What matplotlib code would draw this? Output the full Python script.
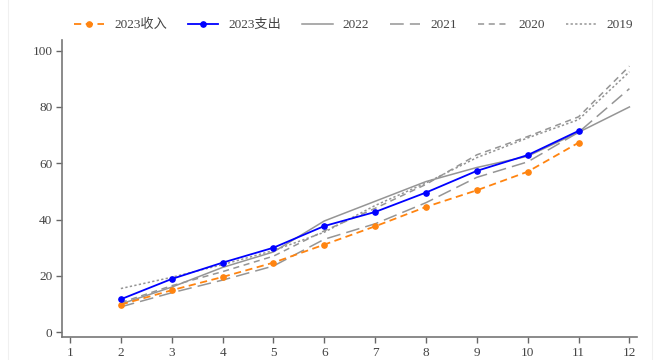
import matplotlib.pyplot as plt
from matplotlib.lines import Line2D

plt.rcParams['font.family'] = ['Liberation Serif', 'Noto Sans CJK SC']

months = [2, 3, 4, 5, 6, 7, 8, 9, 10, 11, 12]
months_2023 = [2, 3, 4, 5, 6, 7, 8, 9, 10, 11]

income_2023 = [9.8, 14.9, 19.6, 24.7, 31.1, 37.6, 44.5, 50.4, 57.0, 67.3]
spend_2023 = [11.7, 18.9, 24.7, 30.0, 37.7, 42.7, 49.6, 57.3, 62.9, 71.5]
y2022 = [10.0, 16.0, 23.0, 28.5, 39.5, 46.5, 53.5, 58.5, 62.5, 71.0, 80.0]
y2021 = [9.0, 14.0, 18.5, 23.5, 33.0, 38.5, 46.0, 55.0, 60.5, 71.0, 86.5]
y2020 = [10.5, 16.5, 21.5, 27.0, 36.0, 44.0, 52.5, 63.0, 69.5, 76.5, 94.5]
y2019 = [15.5, 19.5, 24.0, 29.0, 35.5, 45.0, 53.0, 62.0, 69.0, 75.5, 92.5]

gray = '#959595'

fig = plt.figure(figsize=(6.64, 3.6), dpi=100)
ax = fig.add_axes([0.0934, 0.064, 0.866, 0.825])

# faint page edges
for xf in (0.012, 0.982):
    fig.add_artist(Line2D([xf, xf], [0, 1], color='#f0f0f0', lw=0.8))

ax.plot(months, y2022, color=gray, lw=1.1, label='2022')
ax.plot(months, y2021, color=gray, lw=1.1, dashes=(9, 4), label='2021')
ax.plot(months, y2020, color=gray, lw=1.1, dashes=(4, 3), label='2020')
ax.plot(months, y2019, color=gray, lw=1.1, dashes=(1.5, 1.5), label='2019')
ax.plot(months_2023, income_2023, color='#ff8410', lw=1.3, dashes=(4, 2.5),
        marker='o', markersize=3.8, label='2023收入')
ax.plot(months_2023, spend_2023, color='#0000ff', lw=1.3,
        marker='o', markersize=3.8, label='2023支出')

ax.set_xlim(0.843, 12.15)
ax.set_ylim(-1.7, 103.8)
ax.set_xticks(range(1, 13))
ax.set_yticks([0, 20, 40, 60, 80, 100])

for s in ['top', 'right']:
    ax.spines[s].set_visible(False)
for s in ['left', 'bottom']:
    ax.spines[s].set_color('#777777')
    ax.spines[s].set_linewidth(1.2)
ax.tick_params(colors='#666666', labelsize=9.5, length=4, width=1, pad=3)
for lab in ax.get_xticklabels() + ax.get_yticklabels():
    lab.set_color('#444444')

handles, labels = ax.get_legend_handles_labels()
order = [4, 5, 0, 1, 2, 3]
fig.legend([handles[i] for i in order], [labels[i] for i in order],
           loc='center', bbox_to_anchor=(0.532, 0.93), ncol=6, frameon=False,
           fontsize=9.5, handlelength=2.3, columnspacing=1.6, handletextpad=0.75,
           labelcolor='#444444')

fig.savefig('out.png', dpi=100)
